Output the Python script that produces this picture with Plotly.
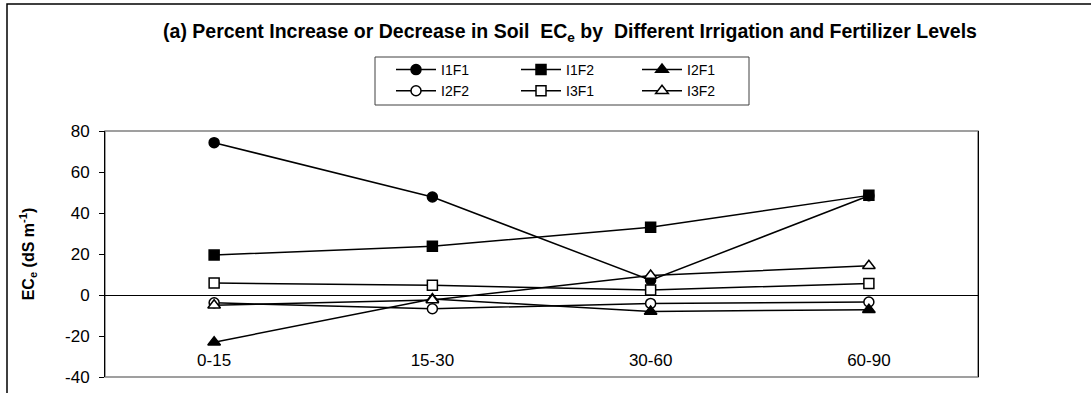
import plotly.graph_objects as go

depths = ["0-15", "15-30", "30-60", "60-90"]
I1F1 = [74.3, 47.8, 7.2, 48.4]
I1F2 = [19.5, 23.8, 33.0, 48.6]
I2F1 = [-23.0, -2.0, -8.0, -7.2]
I2F2 = [-3.8, -6.7, -4.1, -3.4]
I3F1 = [5.8, 4.7, 2.5, 5.6]
I3F2 = [-5.0, -2.4, 9.5, 14.3]
y_ticks = [-40, -20, 0, 20, 40, 60, 80]
y_tick_labels = [str(v) for v in y_ticks]

W, H = 1091, 393
L, R, T, B = 105, 113, 131, 16
pw, ph = W - L - R, H - T - B

def px_x(p):
    return (p - L) / pw

def px_y(p):
    return (H - B - p) / ph

FONT = "Liberation Sans, Arial, sans-serif"

series = [
    ("I1F1", I1F1, "circle", 10, "legend"),
    ("I2F2", I2F2, "circle-open", 10, "legend"),
    ("I1F2", I1F2, "square", 10, "legend2"),
    ("I3F1", I3F1, "square-open", 10, "legend2"),
    ("I2F1", I2F1, "triangle-up", 11, "legend3"),
    ("I3F2", I3F2, "triangle-up-open", 11, "legend3"),
]

fig = go.Figure()
for name, vals, sym, size, leg in series:
    is_open = sym.endswith("open")
    fig.add_trace(go.Scatter(
        x=depths, y=vals, name=name, mode="lines+markers",
        line=dict(color="black", width=1.5),
        marker=dict(symbol=sym.replace("-open", ""), size=size,
                    color="white" if is_open else "black",
                    line=dict(color="black", width=1.5)),
        legend=leg,
    ))

ymin, ymax = y_ticks[0], y_ticks[-1]
zero_frac = (0 - ymin) / (ymax - ymin)
bounds = [i + 0.5 for i in range(len(depths) - 1)]

leg_common = dict(orientation="v", bgcolor="rgba(0,0,0,0)", borderwidth=0,
                  font=dict(family=FONT, size=14, color="black"),
                  xanchor="left", yanchor="top", tracegroupgap=0,
                  itemwidth=40)
fig.update_layout(
    width=W, height=H, autosize=False,
    margin=dict(l=L, r=R, t=T, b=B),
    paper_bgcolor="white", plot_bgcolor="white",
    font=dict(family=FONT, color="black"),
    title=dict(text="<b>(a) Percent Increase or Decrease in Soil  EC<sub>e</sub> by  Different Irrigation and Fertilizer Levels</b>",
               font=dict(family=FONT, size=19.5, color="black"),
               x=570 / W, xref="container", xanchor="center",
               y=1 - 31 / H, yref="container", yanchor="middle"),
    legend=dict(x=px_x(391), y=px_y(54), **leg_common),
    legend2=dict(x=px_x(516), y=px_y(54), **leg_common),
    legend3=dict(x=px_x(637), y=px_y(54), **leg_common),
    xaxis=dict(type="category", categoryorder="array", categoryarray=depths,
               range=[-0.5, len(depths) - 0.5], automargin=False,
               anchor="free", position=px_y(348), side="bottom",
               showline=False, ticks="", ticklabelstandoff=0,
               tickfont=dict(family=FONT, size=17, color="black"),
               showgrid=False, zeroline=False),
    xaxis2=dict(overlaying="x", anchor="free", position=zero_frac, side="bottom",
                type="linear", range=[-0.5, len(depths) - 0.5], automargin=False,
                tickmode="array", tickvals=bounds, ticks="outside", ticklen=5,
                tickcolor="black", tickwidth=1, showticklabels=False,
                showline=False, showgrid=False, zeroline=False),
    yaxis=dict(range=[ymin, ymax], tickmode="array", tickvals=y_ticks,
               ticktext=y_tick_labels, automargin=False,
               ticks="outside", ticklen=5, tickcolor="black", tickwidth=1,
               showline=True, linecolor="black", linewidth=1, mirror=True,
               zeroline=True, zerolinecolor="black", zerolinewidth=1,
               showgrid=False, ticklabelstandoff=6,
               tickfont=dict(family=FONT, size=17, color="black"),
               title=dict(text="<b>EC<sub>e</sub> (dS m<sup>-1</sup>)</b>",
                          font=dict(family=FONT, size=16, color="black"),
                          standoff=26)),
    shapes=[
        dict(type="rect", xref="paper", yref="paper", layer="below",
             x0=0, x1=1, y0=0, y1=1,
             line=dict(color="#808080", width=1.5), fillcolor="rgba(0,0,0,0)"),
        dict(type="rect", xref="paper", yref="paper",
             x0=px_x(375), x1=px_x(749), y0=px_y(105), y1=px_y(57),
             line=dict(color="#404040", width=1), fillcolor="rgba(0,0,0,0)"),
        dict(type="rect", xref="paper", yref="paper",
             x0=px_x(7), x1=px_x(1200), y0=px_y(500), y1=px_y(4),
             line=dict(color="black", width=1.5), fillcolor="rgba(0,0,0,0)"),
    ],
)

fig.write_html("out.html", config={"displayModeBar": False},
               post_script="document.body.style.margin='0';document.body.style.overflow='hidden';")
